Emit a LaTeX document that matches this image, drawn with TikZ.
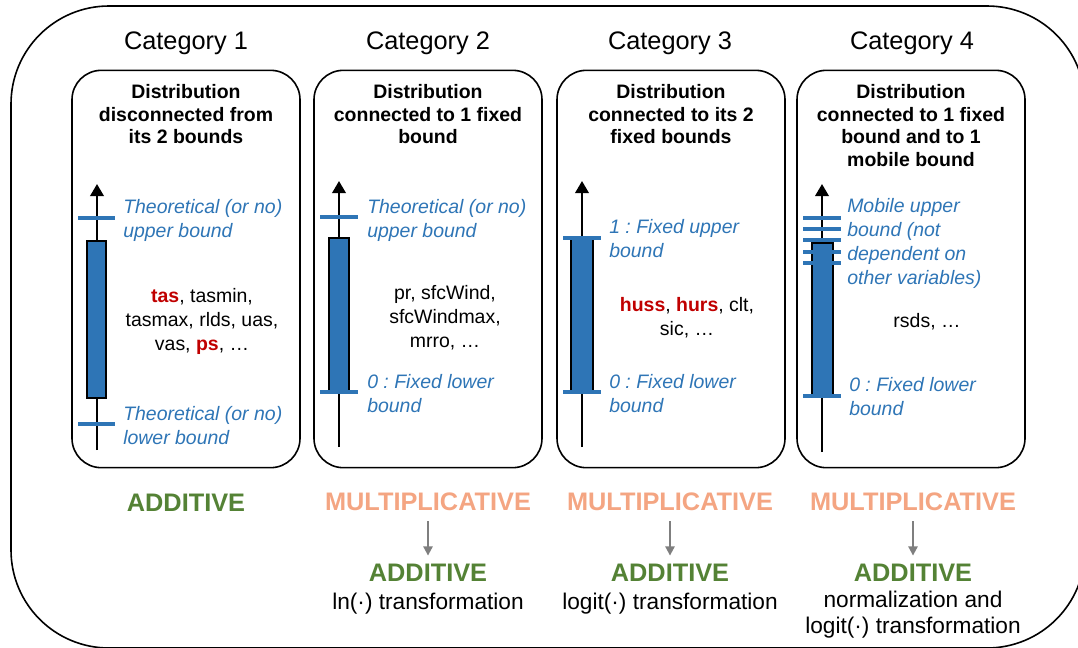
\documentclass[tikz,border=0pt]{standalone}
\usepackage{fontspec}
\setmainfont{Liberation Sans}
\usetikzlibrary{arrows.meta}
\definecolor{barblue}{HTML}{2E75B6}
\definecolor{varred}{HTML}{C00000}
\definecolor{addgreen}{HTML}{548235}
\definecolor{multorange}{HTML}{F4A582}
\definecolor{arrowgray}{HTML}{7F7F7F}
\newcommand{\redvar}[1]{\textcolor{varred}{\textbf{#1}}}
\frenchspacing

\begin{document}
\begin{tikzpicture}[x = 0.75pt, y = -0.75pt,
    title/.style = {font = \fontsize{19}{22}\selectfont},
    panel/.style = {draw, line width = 1.2pt, rounded corners = 22pt, minimum width = 171pt, minimum height = 298pt},
    header/.style = {font = \bfseries\fontsize{14.6}{17}\selectfont, align = center, anchor = north, inner sep = 0pt},
    bound/.style = {font = \itshape\fontsize{14.6}{18}\selectfont, text = barblue, align = left, anchor = west, inner sep = 0pt},
    vars/.style = {font = \fontsize{14.6}{18}\selectfont, align = center, inner sep = 0pt},
    axis/.style = {line width = 1.8pt, -{Triangle[length = 9pt, width = 10pt]}},
    bar/.style = {fill = barblue, draw = black, line width = 1.8pt},
    boundtick/.style = {draw = barblue, line width = 3pt},
    additive/.style = {font = \bfseries\fontsize{19}{22}\selectfont, text = addgreen},
    multiplicative/.style = {font = \bfseries\fontsize{19}{22}\selectfont, text = multorange},
    transfo/.style = {font = \fontsize{17}{19.5}\selectfont, align = center, inner sep = 0pt},
    convert/.style = {draw = arrowgray, line width = 1.5pt, -{Triangle[length = 7pt, width = 7pt]}, shorten < = 4pt, shorten > = 3pt}]
    \useasboundingbox (0,0) rectangle (1078,647);
    \clip (0,0) rectangle (1078,647);
    \draw[line width = 1.2pt, rounded corners = 73.5pt] (11,6) rectangle (1085,648);

    \node[title] (cat1) at (186,43) {Category 1};
    \node[title] (cat2) at (428,43) {Category 2};
    \node[title] (cat3) at (670,43) {Category 3};
    \node[title] (cat4) at (912,43) {Category 4};

    \node[panel] (panel1) at (186,269) {};
    \node[panel] (panel2) at (428,269) {};
    \node[panel] (panel3) at (671,269) {};
    \node[panel] (panel4) at (911,269) {};

    \node[header] (head1) at (186,84) {Distribution\\disconnected from\\its 2 bounds};
    \node[header] (head2) at (428,84) {Distribution\\connected to 1 fixed\\bound};
    \node[header] (head3) at (671,84) {Distribution\\connected to its 2\\fixed bounds};
    \node[header] (head4) at (911,84) {Distribution\\connected to 1 fixed\\bound and to 1\\mobile bound};

    \draw[axis] (97,450) -- (97,184);
    \filldraw[bar] (87,241) rectangle (106,398);
    \draw[boundtick] (78,218) -- (115,218);
    \draw[boundtick] (78,424) -- (115,424);
    \node[bound] (up1) at (123,220.5) {Theoretical (or no)\\upper bound};
    \node[bound] (low1) at (123,426) {Theoretical (or no)\\lower bound};
    \node[vars] (vars1) at (202,321) {\redvar{tas}, tasmin,\\tasmax, rlds, uas,\\vas, \redvar{ps}, …};

    \draw[axis] (339,447) -- (339,181);
    \filldraw[bar] (329,238) rectangle (349,392);
    \draw[boundtick] (320,217) -- (358,217);
    \draw[boundtick] (320,392) -- (358,392);
    \node[bound] (up2) at (367,220.5) {Theoretical (or no)\\upper bound};
    \node[bound] (low2) at (367,393.5) {0 : Fixed lower\\bound};
    \node[vars] (vars2) at (445,318) {pr, sfcWind,\\sfcWindmax,\\mrro, …};

    \draw[axis] (582,447) -- (582,181);
    \filldraw[bar] (571,238) rectangle (593,392);
    \draw[boundtick] (563,238) -- (601,238);
    \draw[boundtick] (563,392) -- (601,392);
    \node[bound] (up3) at (609,239) {1 : Fixed upper\\bound};
    \node[bound] (low3) at (609,393.5) {0 : Fixed lower\\bound};
    \node[vars] (vars3) at (687,318) {\redvar{huss}, \redvar{hurs}, clt,\\sic, …};

    \draw[axis] (822,452) -- (822,184);
    \filldraw[bar] (812,243) rectangle (833,396);
    \foreach \y in {218,229,240,252,263}
        \draw[boundtick] (803,\y) -- (841,\y);
    \draw[boundtick] (803,396) -- (841,396);
    \node[bound] (up4) at (847,243) {Mobile upper\\bound (not\\dependent on\\other variables)};
    \node[bound] (low4) at (849,397) {0 : Fixed lower\\bound};
    \node[vars] (vars4) at (927,322) {rsds, …};

    \node[additive] (add1) at (186,503) {ADDITIVE};
    \node[multiplicative] (mult2) at (428,502) {MULTIPLICATIVE};
    \node[multiplicative] (mult3) at (670,502) {MULTIPLICATIVE};
    \node[multiplicative] (mult4) at (913,502) {MULTIPLICATIVE};
    \node[additive] (add2) at (428,573) {ADDITIVE};
    \node[additive] (add3) at (670,573) {ADDITIVE};
    \node[additive] (add4) at (913,573) {ADDITIVE};
    \node[transfo] (trans2) at (428,604) {ln(·) transformation};
    \node[transfo] (trans3) at (670,604) {logit(·) transformation};
    \node[transfo] (trans4) at (913,615) {normalization and\\logit(·) transformation};
    \draw[convert] (mult2) -- (add2);
    \draw[convert] (mult3) -- (add3);
    \draw[convert] (mult4) -- (add4);
\end{tikzpicture}
\end{document}
